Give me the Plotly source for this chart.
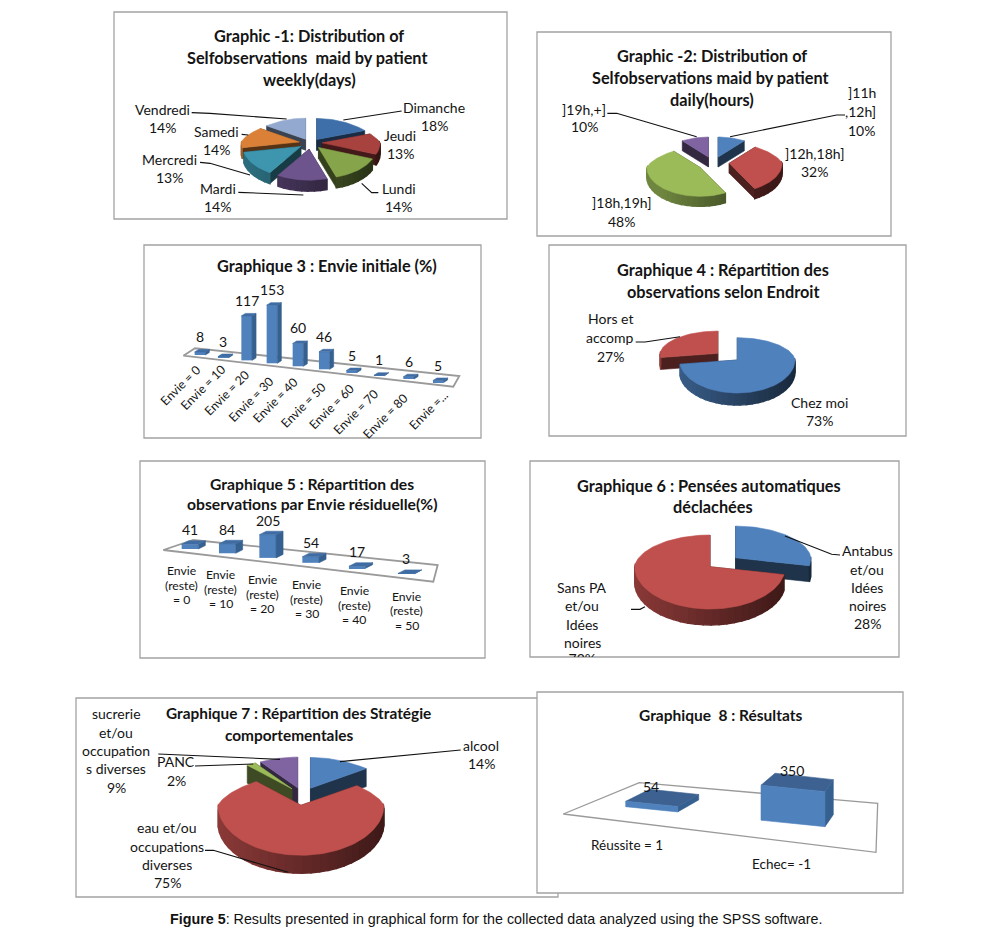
import math
import plotly.graph_objects as go

W, H = 992, 937

# ---------- data ----------
c1_labels = ["Dimanche", "Jeudi", "Lundi", "Mardi", "Mercredi", "Samedi", "Vendredi"]
c1_values = [18, 13, 14, 14, 13, 14, 14]
c2_labels = ["]11h ,12h]", "]12h,18h]", "]18h,19h]", "]19h,+]"]
c2_values = [10, 32, 48, 10]
c3_labels = ["Envie = 0", "Envie = 10", "Envie = 20", "Envie = 30", "Envie = 40", "Envie = 50",
             "Envie = 60", "Envie = 70", "Envie = 80", "Envie =..."]
c3_values = [8, 3, 117, 153, 60, 46, 5, 1, 6, 5]
c4_labels = ["Chez moi", "Hors et accomp"]
c4_values = [73, 27]
c5_labels = ["= 0", "= 10", "= 20", "= 30", "= 40", "= 50"]
c5_values = [41, 84, 205, 54, 17, 3]
c6_labels = ["Antabus et/ou Idées noires", "Sans PA et/ou Idées noires"]
c6_values = [28, 72]
c7_labels = ["alcool", "eau et/ou occupations diverses", "PANC", "sucrerie et/ou occupations diverses"]
c7_values = [14, 75, 2, 9]
c8_labels = ["Réussite = 1", "Echec= -1"]
c8_values = [54, 350]

# ---------- style ----------
FONT = "Lato"
INK = "#141414"
FRAME = "#a3a3a3"
BLUE, RED, GREEN, PURPLE = "#4F81BD", "#C0504D", "#9BBB59", "#8064A2"
TITLE = 16.3

fig = go.Figure()
annotations, shapes = [], []


def rgb(h):
    h = h.lstrip("#")
    return tuple(int(h[i:i + 2], 16) for i in (0, 2, 4))


def mix(h, f):
    r, g, b = rgb(h)
    return f"rgb({int(r * f)},{int(g * f)},{int(b * f)})"


def poly(xs, ys, color, xa="x", ya="y", lw=0.6):
    fig.add_trace(go.Scatter(x=list(xs) + [xs[0]], y=list(ys) + [ys[0]], fill="toself", mode="lines",
                             fillcolor=color, line=dict(color=color, width=lw), xaxis=xa, yaxis=ya,
                             hoverinfo="skip", showlegend=False))


def line(pts, color="#111111", width=1.1):
    fig.add_trace(go.Scatter(x=[p[0] for p in pts], y=[p[1] for p in pts], mode="lines",
                             line=dict(color=color, width=width), hoverinfo="skip", showlegend=False))


def text(x, y, s, size=14, bold=False, angle=0, family=FONT, color=INK):
    annotations.append(dict(x=x, y=y, xref="x", yref="y", text=f"<b>{s}</b>" if bold else s, showarrow=False,
                            xanchor="center", yanchor="middle", textangle=angle,
                            font=dict(family=family, size=size, color=color)))


def zt(ox, oy, items, size=14, bold=False):
    """Place text lines given as 3x zoom coordinates relative to a crop origin."""
    for zx, zy, s in items:
        text(ox + zx / 3, oy + zy / 3, s, size, bold)


def zl(ox, oy, pts):
    line([(ox + a / 3, oy + b / 3) for a, b in pts])


def frame(x0, y0, x1, y1):
    shapes.append(dict(type="rect", xref="x", yref="y", x0=x0, y0=y0, x1=x1, y1=y1, layer="below",
                       line=dict(color=FRAME, width=1.3), fillcolor="white"))


def pie3d(values, cx, cy, rx, rb, rf, depth, explode, colors, k=0.2, light=0.72, dark=0.32):
    total = sum(values)

    def pos(t, ox=0, oy=0):
        s, c = math.sin(t), math.cos(t)
        return (cx + ox + rx * s * (1 - k * max(c, 0)), cy + oy - (rb * c if c > 0 else rf * c))

    slices, a = [], 0.0
    for v, e, col in zip(values, explode, colors):
        b = a + 2 * math.pi * v / total
        m = (a + b) / 2
        c = math.cos(m)
        ox, oy = e * rx * math.sin(m), -(e * rb * c if c > 0 else e * rf * c)
        slices.append((c, a, b, ox, oy, col))
        a = b
    for c, a, b, ox, oy, col in sorted(slices, key=lambda q: -q[0]):
        apex = (cx + ox, cy + oy)
        wall = mix(col, 0.4)
        # radial walls
        for t in sorted((a, b), key=lambda q: pos(q)[1]):
            p = pos(t, ox, oy)
            poly([apex[0], p[0], p[0], apex[0]], [apex[1], p[1], p[1] + depth, apex[1] + depth], wall)
        # outer wall, shaded from left to right; each strip runs a little under the next
        # so that no seams show
        n = max(2, int((b - a) / math.radians(6)))
        for i in range(n):
            t0, t1 = a + (b - a) * i / n, a + (b - a) * (i + 1) / n
            if math.cos((t0 + t1) / 2) > 0.05:
                continue
            p0, p1 = pos(t0, ox, oy), pos(t1, ox, oy)
            f = (0.5 * (p0[0] + p1[0]) - (cx - rx)) / (2 * rx)
            f = min(max(f, 0), 1)
            poly([p0[0], p1[0], p1[0], p0[0]], [p0[1], p1[1], p1[1] + depth, p0[1] + depth],
                 mix(col, light + (dark - light) * f), lw=1.4)
        # top
        n = max(3, int((b - a) / math.radians(2)))
        arc = [pos(a + (b - a) * i / n, ox, oy) for i in range(n + 1)]
        poly([apex[0]] + [p[0] for p in arc], [apex[1]] + [p[1] for p in arc], col)


def axes_for(idx, x0, y0, x1, y1, yrange):
    layout_axes[f"xaxis{idx}"] = dict(domain=[x0 / W, x1 / W], range=[x0, x1], visible=False,
                                      anchor=f"y{idx}", fixedrange=True)
    layout_axes[f"yaxis{idx}"] = dict(domain=[1 - y1 / H, 1 - y0 / H], range=yrange, visible=False,
                                      anchor=f"x{idx}", fixedrange=True)


def bars3d(idx, box, values, centers, width, scale, base0, slope, dx, up, label_off=15.5, size=14):
    x0, y0, x1, y1 = box
    axes_for(idx, x0, y0, x1, y1, [0, (y1 - y0) / scale])
    to_val = lambda py: (y1 - py) / scale
    bases = [to_val(base0 + slope * (c - centers[0])) for c in centers]
    fig.add_trace(go.Bar(x=centers, y=values, base=bases, width=width, marker=dict(color=BLUE, line=dict(width=0)),
                         xaxis=f"x{idx}", yaxis=f"y{idx}", showlegend=False, hoverinfo="skip"))
    for c, v, b in zip(centers, values, bases):
        t = b + v
        d = up / scale
        l, r = c - width / 2, c + width / 2
        poly([r, r + dx, r + dx, r], [b, b + d, t + d, t], "#35608f", f"x{idx}", f"y{idx}")
        poly([l, r, r + dx, l + dx], [t, t, t + d, t + d], "#3f6ca3", f"x{idx}", f"y{idx}")
        text(c, y1 - t * scale - label_off, str(v), size)


layout_axes = {}

# ---------- frames ----------
frame(114, 12, 507, 219)
frame(537, 32, 891, 236)
frame(144, 245, 481, 438)
frame(549, 245, 906, 436)
frame(140, 461, 485, 658)
frame(530, 461, 899, 657)
frame(76, 698, 558, 897)
frame(537, 692, 903, 893)

# ---------- chart 1 ----------
pie3d(c1_values, 310.5, 143, 58, 21, 31, 11, [0.2] * 7,
      ["#3F6FA8", "#A8423F", "#86A44A", "#6E548D", "#3D96AE", "#DA8137", "#93A9CF"])
zt(110, 5, [(598, 90, "Graphic -1: Distribution of"), (590, 157, "Selfobservations  maid by patient"),
            (598, 224, "weekly(days)")], TITLE, True)
c1_pos = [(972, 307, 362), (870, 390, 445), (866, 551, 605), (323, 550, 605), (177, 463, 517), (318, 380, 433), (157, 313, 368)]
for (zx, a, b), n, v in zip(c1_pos, c1_labels, c1_values):
    zt(110, 5, [(zx, a, n), (zx, b, f"{v}%")])
zl(110, 5, [(875, 318), (700, 345)])
zl(110, 5, [(805, 563), (785, 563), (755, 535)])
zl(110, 5, [(385, 562), (470, 565), (580, 570)])
zl(110, 5, [(270, 472), (300, 475), (420, 510)])
zl(110, 5, [(395, 388), (415, 390)])
zl(110, 5, [(245, 323), (300, 325), (530, 342)])

# ---------- chart 2 ----------
pie3d(c2_values, 713.3, 162.7, 53, 20, 29, 10, [0.3] * 4, [BLUE, RED, GREEN, PURPLE])
zt(530, 25, [(547, 90, "Graphic -2: Distribution of"), (540, 157, "Selfobservations maid by patient"),
             (547, 223, "daily(hours)")], TITLE, True)
zt(530, 25, [(997, 203, "]11h"), (992, 258, ",12h]"), (995, 315, f"{c2_values[0]}%"),
             (852, 385, c2_labels[1]), (852, 440, f"{c2_values[1]}%"),
             (273, 533, c2_labels[2]), (273, 588, f"{c2_values[2]}%"),
             (163, 253, c2_labels[3]), (163, 305, f"{c2_values[3]}%")])
zl(530, 25, [(945, 270), (920, 270), (600, 335)])
zl(530, 25, [(232, 265), (260, 265), (500, 335)])

# ---------- chart 3 ----------
line([(183.3, 355.7), (195, 348.3), (459.3, 376), (453.3, 386.7), (183.3, 355.7)], "#9a9a9a", 1.8)
c3_centers = [200, 223.3, 246.7, 272, 298, 324.3, 351.7, 379.3, 408.7, 438.3]
bars3d(2, (144, 245, 481, 438), c3_values, c3_centers, 10.7, 0.38, 355, 0.115, 4, 2.5, size=14)
zt(140, 240, [(561, 75, "Graphique 3 : Envie initiale (%)")], TITLE, True)
c3_tick_pos = [(180, 385), (202.7, 387), (226, 393), (250.7, 399), (275, 400.7), (303, 405.7),
               (331.7, 406.7), (355, 412), (385, 416.7), (428, 410)]
for (x, y), s in zip(c3_tick_pos, c3_labels):
    text(x, y, s, 12.3, angle=-45)

# ---------- chart 4 ----------
pie3d(c4_values, 737.3, 360, 57.7, 22.3, 33, 12, [0, 0.45], [BLUE, RED], k=0.05)
zt(545, 240, [(535, 88, "Graphique 4 : Répartition des"), (535, 153, "observations selon Endroit")], TITLE, True)
zt(545, 240, [(196, 235, "Hors et"), (196, 293, "accomp"), (196, 348, f"{c4_values[1]}%"),
              (823, 488, c4_labels[0]), (823, 542, f"{c4_values[0]}%")])
zl(545, 240, [(272, 306), (300, 306), (405, 290)])

# ---------- chart 5 ----------
line([(163.3, 550), (193.3, 540), (437.7, 565), (433.3, 581.7), (163.3, 550)], "#9a9a9a", 1.8)
c5_centers = [190, 227.3, 267.7, 310.7, 357.3, 406.3]
bars3d(3, (140, 461, 485, 658), c5_values, c5_centers, 16.7, 0.113, 549, 0.1144, 7, 3.5, label_off=14.5, size=14)
zt(135, 455, [(530, 88, "Graphique 5 : Répartition des"), (530, 146, "observations par Envie résiduelle(%)")], 15.7, True)
c5_tick_pos = [(181.7, 585), (220.7, 589), (262, 594), (306.7, 599), (354.3, 605), (406.7, 610.7)]
for (x, y), s in zip(c5_tick_pos, c5_labels):
    text(x, y - 14.7, "Envie", 12.2)
    text(x, y, "(reste)", 12.2)
    text(x, y + 14.7, s, 12.2)

# ---------- chart 6 ----------
pie3d(c6_values, 710, 566.7, 75.3, 31.7, 42.3, 16, [0.44, 0], [BLUE, RED], k=0.05)
zt(525, 455, [(553, 90, "Graphique 6 : Pensées automatiques"), (563, 155, "déclachées")], TITLE, True)
zt(525, 455, [(1027, 287, "Antabus"), (1027, 342, "et/ou"), (1027, 398, "Idées"), (1027, 452, "noires"),
              (1027, 506, f"{c6_values[0]}%"),
              (172, 397, "Sans PA"), (172, 452, "et/ou"), (172, 508, "Idées"), (172, 562, "noires")])
# last label line is cut by the chart's lower frame, as in the reference
axes_for(5, 530, 461, 899, 657, [657, 461])
layout_axes["xaxis5"]["range"] = [530, 899]
fig.add_trace(go.Scatter(x=[525 + 172 / 3], y=[455 + 617 / 3], mode="text", text=[f"{c6_values[1]}%"],
                         textfont=dict(family=FONT, size=14, color=INK), xaxis="x5", yaxis="y5",
                         hoverinfo="skip", showlegend=False))
zl(525, 455, [(945, 300), (920, 298), (780, 243)])
zl(525, 455, [(318, 463), (345, 463), (360, 455)])

# ---------- chart 7 ----------
pie3d(c7_values, 302.7, 794.3, 83, 30.7, 50, 18, [0.22] * 4, [BLUE, RED, GREEN, PURPLE])
zt(70, 690, [(684, 70, "Graphique 7 : Répartition des Stratégie"), (657, 135, "comportementales")], 15.4, True)
zt(70, 690, [(138, 70, "sucrerie"), (138, 127, "et/ou"), (138, 182, "occupation"), (138, 236, "s diverses"),
             (138, 292, f"{c7_values[3]}%"),
             (318, 214, c7_labels[2]), (318, 270, f"{c7_values[2]}%"),
             (1234, 167, c7_labels[0]), (1234, 221, f"{c7_values[0]}%"),
             (292, 413, "eau et/ou"), (292, 470, "occupations"), (292, 524, "diverses"),
             (292, 578, f"{c7_values[1]}%")])
zl(70, 690, [(1172, 180), (810, 215)])
zl(70, 690, [(265, 192), (630, 208)])
zl(70, 690, [(375, 228), (550, 222)])
zl(70, 690, [(405, 481), (430, 481), (655, 547)])

# ---------- chart 8 ----------
line([(563.3, 814), (639.3, 782.7), (877.7, 803.3), (876, 852.3), (563.3, 814)], "#9a9a9a", 1.3)
c8_scale = 0.1
c8_box = (537, 692, 903, 893)
axes_for(4, c8_box[0], c8_box[1], c8_box[2], c8_box[3], [0, (c8_box[3] - c8_box[1]) / c8_scale])
c8_left, c8_right = [625.7, 761], [677.7, 825]
c8_dxl, c8_dxr = [24, 14], [21, 8.3]
for v, l, r, dl, dr in zip(c8_values, c8_left, c8_right, c8_dxl, c8_dxr):
    to_v = lambda py: (c8_box[3] - py) / c8_scale
    bl, br = to_v(806.7 + 0.1 * (l - 625.7)), to_v(806.7 + 0.1 * (r - 625.7))
    d = 12 / c8_scale
    poly([r, r + dr, r + dr, r], [br, br + d, br + v + d, br + v], "#35608f", "x4", "y4")
    poly([l, r, r + dr, l + dl], [bl + v, br + v, br + v + d, bl + v + d], "#3d6291", "x4", "y4")
    poly([l, r, r, l], [bl, br, br + v, bl + v], BLUE, "x4", "y4")
zt(530, 685, [(572, 90, "Graphique  8 : Résultats")], 15.5, True)
zt(530, 685, [(362, 305, str(c8_values[0])), (787, 257, str(c8_values[1]))])
zt(530, 685, [(292, 481, c8_labels[0]), (754, 536, c8_labels[1])], 13.5)

# ---------- caption ----------
text(496, 919, "<b>Figure 5</b>: Results presented in graphical form for the collected data analyzed using the SPSS software.",
     14.3, family="Liberation Sans", color="#111111")

fig.update_layout(width=W, height=H, autosize=False, margin=dict(l=0, r=0, t=0, b=0), paper_bgcolor="white",
                  plot_bgcolor="rgba(0,0,0,0)", showlegend=False, barmode="overlay",
                  xaxis=dict(domain=[0, 1], range=[0, W], visible=False, fixedrange=True),
                  yaxis=dict(domain=[0, 1], range=[H, 0], visible=False, fixedrange=True),
                  annotations=annotations, shapes=shapes, **layout_axes)

fig.write_html("out.html", config={"displayModeBar": False},
               post_script="document.body.style.margin='0';document.body.style.overflow='hidden';")
